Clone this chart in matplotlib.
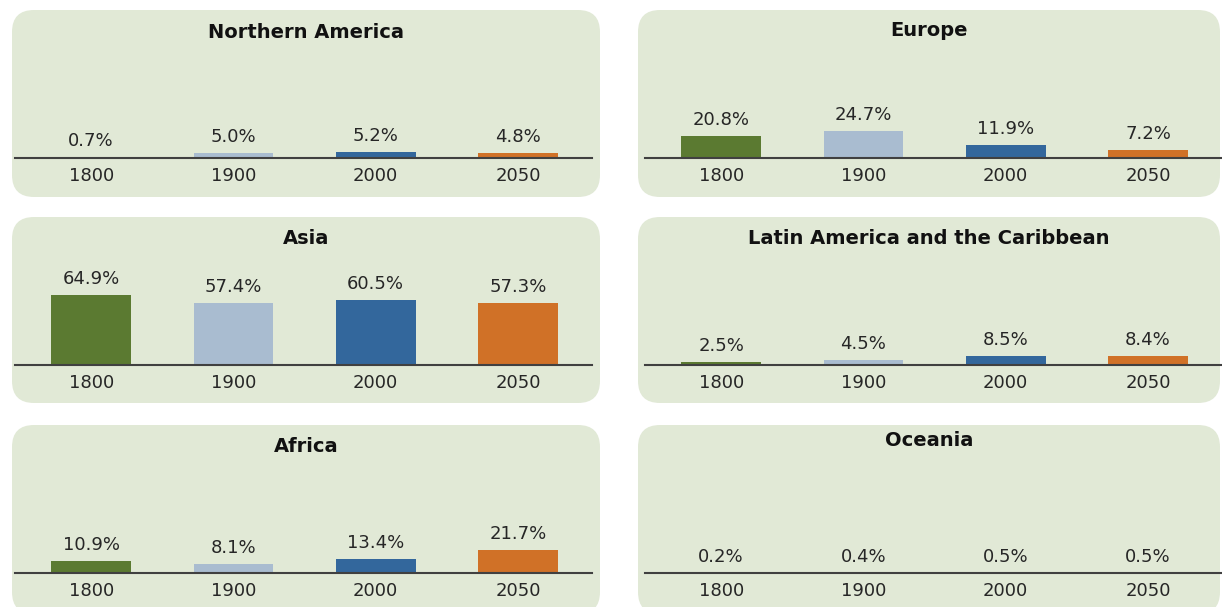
"""World population share by region, 1800-2050 (small multiples)."""
import matplotlib.pyplot as plt
from matplotlib.patches import FancyBboxPatch

W, H = 1222, 607

years = ['1800', '1900', '2000', '2050']
regions = ['Northern America', 'Europe', 'Asia',
           'Latin America and the Caribbean', 'Africa', 'Oceania']
northern_america = [0.7, 5.0, 5.2, 4.8]
europe = [20.8, 24.7, 11.9, 7.2]
asia = [64.9, 57.4, 60.5, 57.3]
latin_america = [2.5, 4.5, 8.5, 8.4]
africa = [10.9, 8.1, 13.4, 21.7]
oceania = [0.2, 0.4, 0.5, 0.5]
shares = [northern_america, europe, asia, latin_america, africa, oceania]

colors = ['#5b7a31', '#a9bcd0', '#33679c', '#d07127']
bg = '#e1e9d6'
txt = '#262626'

fig = plt.figure(figsize=(W / 100, H / 100), dpi=100)

# pixel layout of the six panels
box_x = [(12, 600), (638, 1220)]
box_y = [(10, 197), (217, 403), (425, 614)]
baselines = [158, 365, 573]
title_y = [[32, 30], [238, 238], [446, 441]]
axis_x = [(15, 592), (645, 1222)]
px_per_pct = 1.08
ymax = 80


def fx(x):
    return x / W


def fy(y):
    return 1 - y / H


for i, (name, vals) in enumerate(zip(regions, shares)):
    r, c = divmod(i, 2)
    x0, x1 = box_x[c]
    y0, y1 = box_y[r]
    # rounded panel, drawn in pixel units
    box = FancyBboxPatch((x0 + 22, H - y1 + 22), x1 - x0 - 44, y1 - y0 - 44,
                         boxstyle='round,pad=22',
                         transform=None, facecolor=bg, edgecolor='none',
                         zorder=-5)
    fig.patches.append(box)

    ax0, ax1 = axis_x[c]
    base = baselines[r]
    ax = fig.add_axes([fx(ax0), fy(base), fx(ax1 - ax0),
                       ymax * px_per_pct / H])
    ax.set_zorder(2)
    ax.set_facecolor('none')
    pos = range(len(years))
    ax.bar(pos, vals, width=0.56, color=colors, zorder=2)
    for p, v in zip(pos, vals):
        ax.annotate(f'{v:.1f}%', (p, v), xytext=(0, 5),
                    textcoords='offset points', ha='center', va='bottom',
                    fontsize=13, color=txt)
    ax.set_xlim(-0.535, 3.52)
    ax.set_ylim(0, ymax)
    for s in ['top', 'right', 'left']:
        ax.spines[s].set_visible(False)
    ax.spines['bottom'].set_color('#404040')
    ax.spines['bottom'].set_linewidth(1.5)
    ax.set_yticks([])
    ax.set_xticks(list(pos))
    ax.set_xticklabels(years, fontsize=13, color=txt)
    ax.tick_params(axis='x', length=0, pad=6.5)

    fig.text(fx((x0 + x1) / 2), fy(title_y[r][c]), name, ha='center',
             va='center', fontsize=14, fontweight='bold', color='#111111')

fig.savefig('out.png', dpi=100)
